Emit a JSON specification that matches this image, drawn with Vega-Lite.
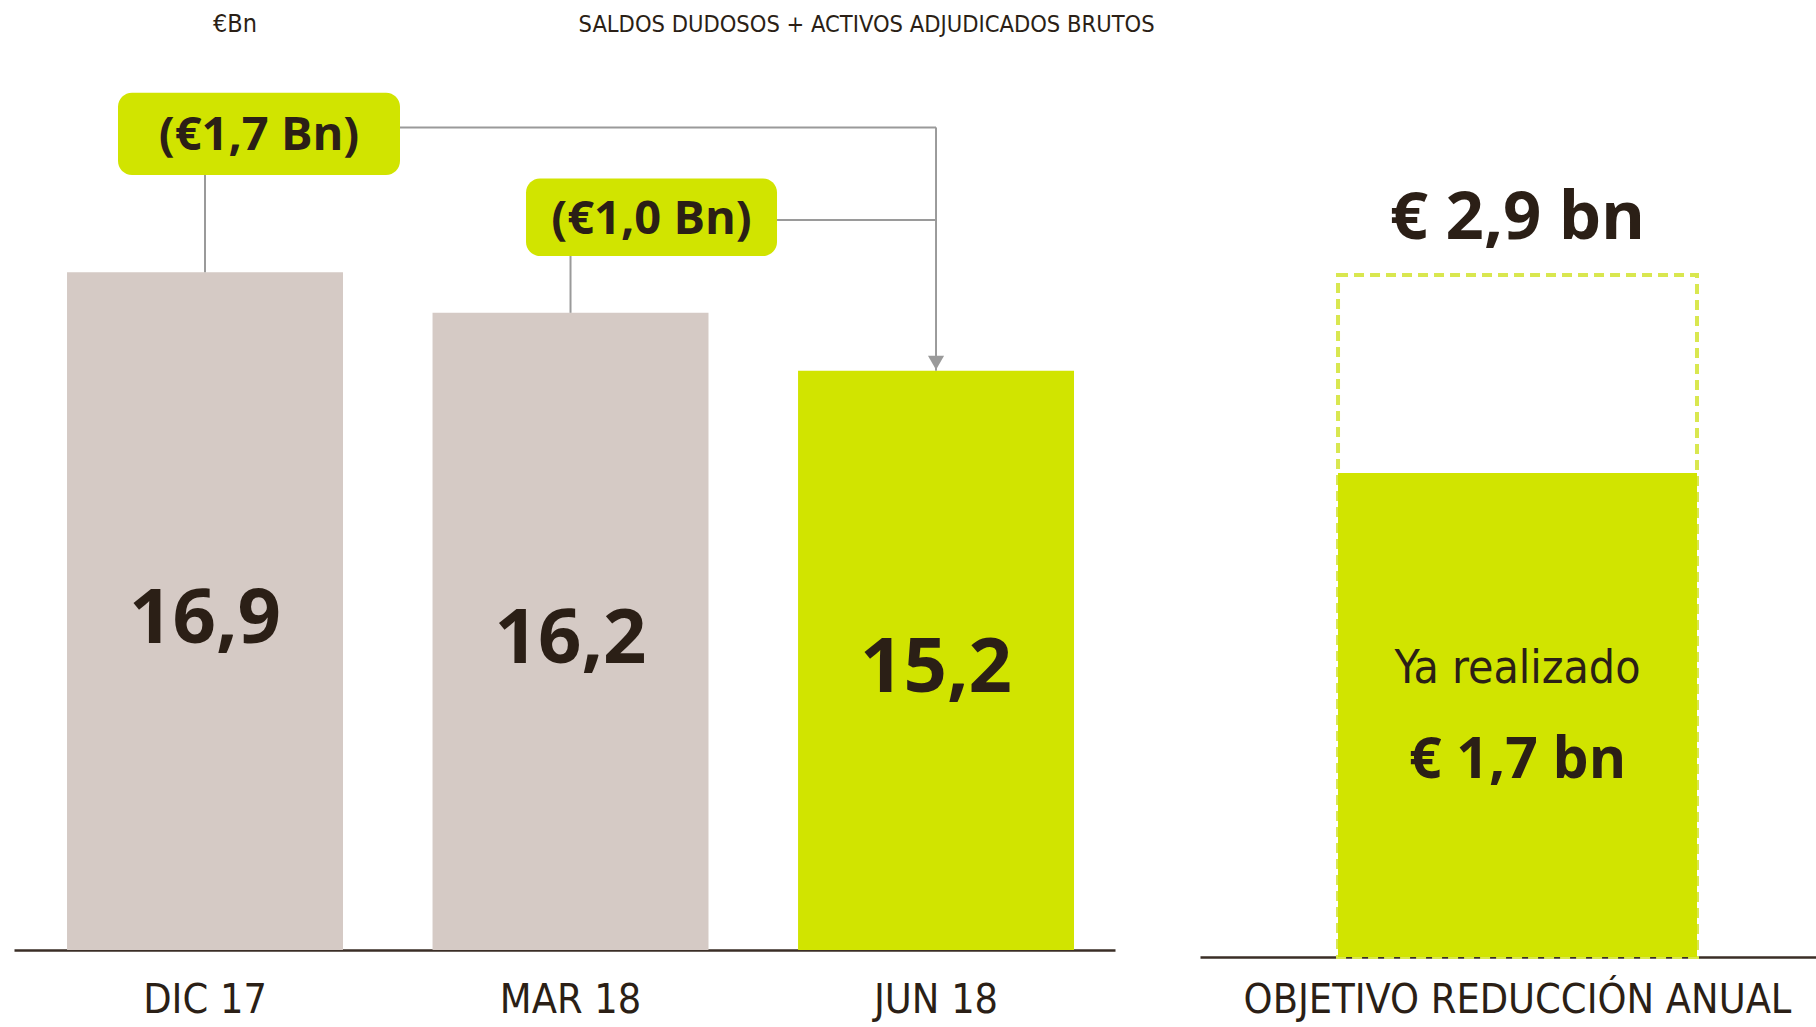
{
  "$schema": "https://vega.github.io/schema/vega-lite/v6.json",
  "padding": {"left": 14, "top": 0, "right": 0, "bottom": 70},
  "bounds": "flush",
  "spacing": 85,
  "background": "white",
  "config": {
    "view": {"stroke": null},
    "font": "Liberation Sans Narrow, DejaVu Sans Condensed, sans-serif",
    "locale": {"number": {"decimal": ",", "thousands": ".", "grouping": [3], "currency": ["€ ", " bn"]}}
  },
  "hconcat": [
    {
      "width": 1101,
      "height": 950,
      "data": {"values": [
        {"periodo": "DIC 17", "saldo": 16.9},
        {"periodo": "MAR 18", "saldo": 16.2},
        {"periodo": "JUN 18", "saldo": 15.2}
      ]},
      "resolve": {"scale": {"y": "independent"}},
      "layer": [
        {
          "layer": [
            {
              "mark": {"type": "bar"},
              "encoding": {
                "x": {"field": "periodo", "type": "nominal",
                  "scale": {"domain": ["DIC 17", "MAR 18", "JUN 18"], "paddingInner": 0.245, "paddingOuter": 0.1286, "align": 0.564},
                  "axis": {"title": null, "labelAngle": 0, "ticks": false, "tickSize": 0, "labelPadding": 62, "labelBaseline": "alphabetic",
                    "labelFontSize": 41, "labelLimit": 0, "labelColor": "#2b1f16", "labelFont": "Liberation Sans Narrow, DejaVu Sans Condensed, sans-serif",
                    "domainColor": "#3a2e26", "domainWidth": 2.5}},
                "y": {"field": "saldo", "type": "quantitative", "scale": {"domain": [5.2, 21.6], "zero": false, "nice": false}, "axis": null},
                "y2": {"datum": 5.2},
                "color": {"field": "periodo", "type": "nominal",
                  "scale": {"domain": ["DIC 17", "MAR 18", "JUN 18"], "range": ["#d5cac5", "#d5cac5", "#d1e400"]}, "legend": null}
              }
            },
            {
              "data": {"values": [{}]},
              "mark": {"type": "rule", "color": "#9a9a9a", "strokeWidth": 2},
              "encoding": {
                "x": {"datum": "DIC 17", "type": "nominal"},
                "y": {"datum": 19.4, "type": "quantitative", "axis": null},
                "y2": {"datum": 16.9}
              }
            },
            {
              "data": {"values": [{}]},
              "mark": {"type": "rule", "color": "#9a9a9a", "strokeWidth": 2},
              "encoding": {
                "x": {"datum": "DIC 17", "type": "nominal"},
                "x2": {"datum": "JUN 18"},
                "y": {"datum": 19.4, "type": "quantitative", "axis": null}
              }
            },
            {
              "data": {"values": [{}]},
              "mark": {"type": "rule", "color": "#9a9a9a", "strokeWidth": 2},
              "encoding": {
                "x": {"datum": "JUN 18", "type": "nominal"},
                "y": {"datum": 19.4, "type": "quantitative", "axis": null},
                "y2": {"datum": 15.2}
              }
            },
            {
              "data": {"values": [{}]},
              "mark": {"type": "rule", "color": "#9a9a9a", "strokeWidth": 2},
              "encoding": {
                "x": {"datum": "MAR 18", "type": "nominal"},
                "y": {"datum": 17.8, "type": "quantitative", "axis": null},
                "y2": {"datum": 16.2}
              }
            },
            {
              "data": {"values": [{}]},
              "mark": {"type": "rule", "color": "#9a9a9a", "strokeWidth": 2},
              "encoding": {
                "x": {"datum": "MAR 18", "type": "nominal"},
                "x2": {"datum": "JUN 18"},
                "y": {"datum": 17.8, "type": "quantitative", "axis": null}
              }
            },
            {
              "data": {"values": [{}]},
              "mark": {"type": "point", "shape": "triangle-down", "filled": true, "size": 260, "color": "#9a9a9a", "opacity": 1, "yOffset": -8},
              "encoding": {
                "x": {"datum": "JUN 18", "type": "nominal"},
                "y": {"datum": 15.2, "type": "quantitative", "axis": null}
              }
            },
            {
              "data": {"values": [{}]},
              "mark": {"type": "bar", "color": "#d1e400", "cornerRadius": 14, "width": 282, "xOffset": 54},
              "encoding": {
                "x": {"datum": "DIC 17", "type": "nominal"},
                "y": {"datum": 20.0, "type": "quantitative", "axis": null},
                "y2": {"datum": 18.58}
              }
            },
            {
              "data": {"values": [{}]},
              "mark": {"type": "bar", "color": "#d1e400", "cornerRadius": 14, "width": 251, "xOffset": 81},
              "encoding": {
                "x": {"datum": "MAR 18", "type": "nominal"},
                "y": {"datum": 18.52, "type": "quantitative", "axis": null},
                "y2": {"datum": 17.18}
              }
            },
            {
              "data": {"values": [{}]},
              "mark": {"type": "text", "text": "(€1,7 Bn)", "font": "Open Sans", "fontWeight": "bold", "fontSize": 47, "color": "#2b1f16", "baseline": "middle", "align": "center", "dx": 54},
              "encoding": {
                "x": {"datum": "DIC 17", "type": "nominal"},
                "y": {"datum": 19.25, "type": "quantitative", "axis": null}
              }
            },
            {
              "data": {"values": [{}]},
              "mark": {"type": "text", "text": "(€1,0 Bn)", "font": "Open Sans", "fontWeight": "bold", "fontSize": 47, "color": "#2b1f16", "baseline": "middle", "align": "center", "dx": 81},
              "encoding": {
                "x": {"datum": "MAR 18", "type": "nominal"},
                "y": {"datum": 17.8, "type": "quantitative", "axis": null}
              }
            },
            {
              "data": {"values": [{}]},
              "mark": {"type": "text", "text": "SALDOS DUDOSOS + ACTIVOS ADJUDICADOS BRUTOS", "fontSize": 23.5, "color": "#2b1f16", "baseline": "alphabetic", "align": "left", "dx": 8},
              "encoding": {
                "x": {"datum": "MAR 18", "type": "nominal"},
                "y": {"datum": 21.04, "type": "quantitative", "axis": null}
              }
            },
            {
              "data": {"values": [{}]},
              "mark": {"type": "text", "text": "€Bn", "fontSize": 25, "color": "#2b1f16", "baseline": "alphabetic", "align": "center", "dx": 30},
              "encoding": {
                "x": {"datum": "DIC 17", "type": "nominal"},
                "y": {"datum": 21.04, "type": "quantitative", "axis": null}
              }
            }
          ]
        },
        {
          "mark": {"type": "text", "font": "Open Sans", "fontWeight": "bold", "fontSize": 76, "baseline": "middle", "color": "#2b1f16", "dy": 9},
          "encoding": {
            "x": {"field": "periodo", "type": "nominal"},
            "y": {"field": "saldo", "type": "quantitative", "scale": {"domain": [5.2, 38.0], "zero": false, "nice": false}, "axis": null},
            "text": {"field": "saldo", "type": "quantitative", "format": ".1f"}
          }
        }
      ]
    },
    {
      "width": 616,
      "height": 957,
      "data": {"values": [
        {"meta": "OBJETIVO REDUCCIÓN ANUAL", "objetivo": 2.9, "realizado": 1.7}
      ]},
      "layer": [
        {
          "mark": {"type": "bar", "fill": "white", "fillOpacity": 0, "stroke": "#d9e74f", "strokeWidth": 4, "strokeDash": [10, 6]},
          "encoding": {
            "x": {"field": "meta", "type": "nominal",
              "scale": {"paddingInner": 0, "paddingOuter": 0.358, "align": 0.537},
              "axis": {"title": null, "labelAngle": 0, "ticks": false, "tickSize": 0, "labelPadding": 55, "labelBaseline": "alphabetic",
                "labelFontSize": 41, "labelLimit": 0, "labelColor": "#2b1f16", "labelFont": "Liberation Sans Narrow, DejaVu Sans Condensed, sans-serif",
                "domainColor": "#3a2e26", "domainWidth": 2.5}},
            "y": {"field": "objetivo", "type": "quantitative", "scale": {"domain": [-1.234, 4.566], "zero": false, "nice": false}, "axis": null},
            "y2": {"datum": -1.234}
          }
        },
        {
          "mark": {"type": "bar", "color": "#d1e400"},
          "encoding": {
            "x": {"field": "meta", "type": "nominal"},
            "y": {"field": "realizado", "type": "quantitative"},
            "y2": {"datum": -1.234}
          }
        },
        {
          "mark": {"type": "text", "font": "Open Sans", "fontWeight": "bold", "fontSize": 67, "baseline": "alphabetic", "color": "#2b1f16", "dy": -36},
          "encoding": {
            "x": {"field": "meta", "type": "nominal"},
            "y": {"field": "objetivo", "type": "quantitative"},
            "text": {"field": "objetivo", "type": "quantitative", "format": "$.1f"}
          }
        },
        {
          "mark": {"type": "text", "text": "Ya realizado", "fontSize": 46, "baseline": "alphabetic", "color": "#2b1f16", "dy": 210},
          "encoding": {
            "x": {"field": "meta", "type": "nominal"},
            "y": {"field": "realizado", "type": "quantitative"}
          }
        },
        {
          "mark": {"type": "text", "font": "Open Sans", "fontWeight": "bold", "fontSize": 57, "baseline": "alphabetic", "color": "#2b1f16", "dy": 305},
          "encoding": {
            "x": {"field": "meta", "type": "nominal"},
            "y": {"field": "realizado", "type": "quantitative"},
            "text": {"field": "realizado", "type": "quantitative", "format": "$.1f"}
          }
        }
      ]
    }
  ]
}
